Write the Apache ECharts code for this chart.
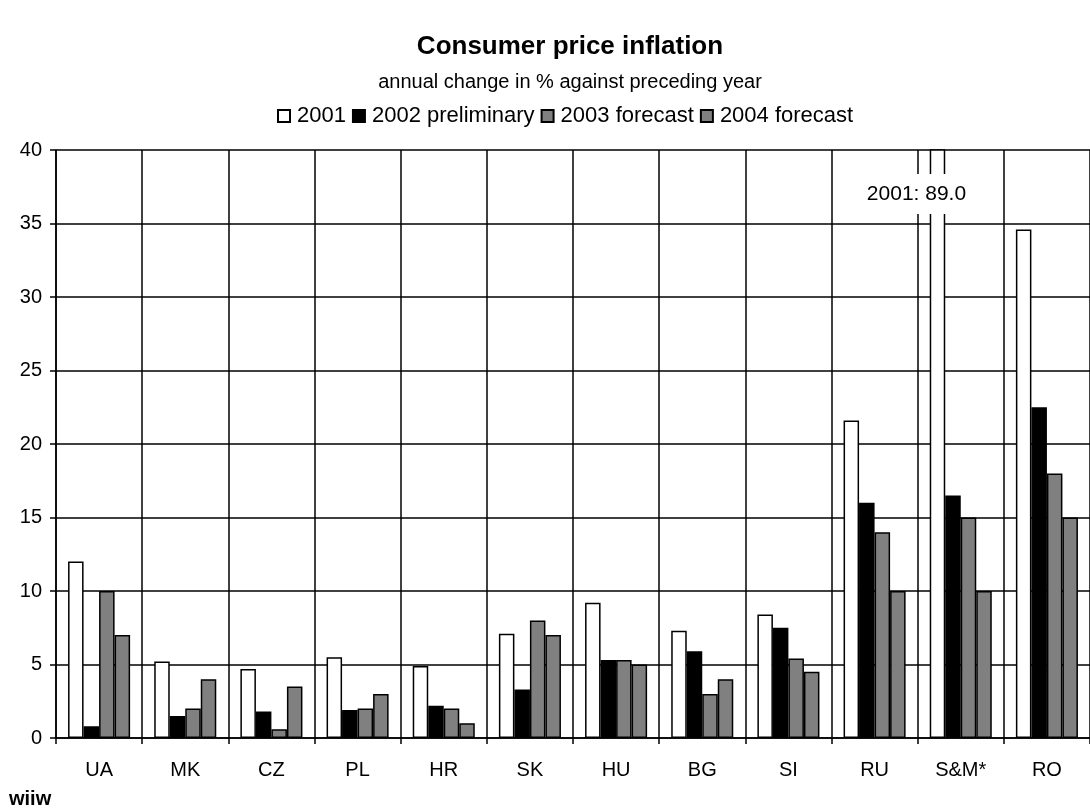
<!DOCTYPE html>
<html>
<head>
<meta charset="utf-8">
<script src="https://cdn.jsdelivr.net/npm/echarts@6/dist/echarts.min.js"></script>
<style>
html,body{margin:0;padding:0;background:#fff;}
#chart{width:1090px;height:808px;}
</style>
</head>
<body>
<div id="chart"></div>
<script>
// countries on the x axis
const countries = ['UA','MK','CZ','PL','HR','SK','HU','BG','SI','RU','S&M*','RO']
// annual change in %
const y2001 = [12.0, 5.2, 4.7, 5.5, 4.9, 7.1, 9.2, 7.3, 8.4, 21.6, 89.0, 34.6]
const y2002 = [0.8, 1.5, 1.8, 1.9, 2.2, 3.3, 5.3, 5.9, 7.5, 16.0, 16.5, 22.5]
const y2003 = [10.0, 2.0, 0.6, 2.0, 2.0, 8.0, 5.3, 3.0, 5.4, 14.0, 15.0, 18.0]
const y2004 = [7.0, 4.0, 3.5, 3.0, 1.0, 7.0, 5.0, 4.0, 4.5, 10.0, 10.0, 15.0]
const seriesNames = ['2001','2002 preliminary','2003 forecast','2004 forecast']
const yTicks = [0, 40, 5] // min, max, step

const font = 'Liberation Sans, Arial, sans-serif'
const border = {borderColor:'#000', borderWidth:1.5}

function bar(name, data, color){
    return {
        name:name,
        type:'bar',
        data:data,
        barGap:'0%',
        barCategoryGap:'28%',
        itemStyle:Object.assign({color:color}, border)
    }
}

const s2001 = bar(seriesNames[0], y2001, '#ffffff')
// the S&M* 2001 bar is cut at 40, its value is written in a box
s2001.markPoint = {
    silent:true,
    data:[{
        coord:['S&M*', 37],
        symbol:'rect',
        symbolSize:[126, 40],
        symbolOffset:[-21, 0],
        itemStyle:{color:'#fff'},
        label:{show:true, position:'inside', formatter:'2001: 89.0', color:'#000', fontSize:21, fontFamily:font}
    }]
}

const option = {
    animation:false,
    backgroundColor:'#fff',
    textStyle:{fontFamily:font, color:'#000'},
    title:[
        {text:'Consumer price inflation', left:565, textAlign:'center', top:29,
         textStyle:{fontSize:26, fontWeight:'bold', color:'#000', fontFamily:font}},
        {text:'annual change in % against preceding year', left:565, textAlign:'center', top:67,
         textStyle:{fontSize:20, fontWeight:'normal', color:'#000', fontFamily:font}},
        {text:'wiiw', left:4, top:784,
         textStyle:{fontSize:20, fontWeight:'bold', color:'#000', fontFamily:font}}
    ],
    legend:{
        top:100,
        left:272,
        itemWidth:12,
        itemHeight:12,
        itemGap:6,
        icon:'rect',
        textStyle:{fontSize:22, color:'#000', fontFamily:font, padding:[0,0,0,2]},
        data:seriesNames
    },
    grid:{left:56, top:150, width:1039, bottom:70, containLabel:false},
    xAxis:{
        type:'category',
        data:countries,
        axisLine:{lineStyle:{color:'#000', width:1.5}},
        axisTick:{show:true, length:6, lineStyle:{color:'#000', width:1.5}},
        axisLabel:{color:'#000', fontSize:20, margin:22, interval:0, fontFamily:font},
        splitLine:{show:true, interval:0, lineStyle:{color:'#000', width:1.5}}
    },
    yAxis:{
        type:'value',
        min:yTicks[0],
        max:yTicks[1],
        interval:yTicks[2],
        axisLine:{show:true, lineStyle:{color:'#000', width:1.5}},
        axisTick:{show:true, length:6, lineStyle:{color:'#000', width:1.5}},
        axisLabel:{color:'#000', fontSize:20, margin:14, fontFamily:font},
        splitLine:{show:true, lineStyle:{color:'#000', width:1.5}}
    },
    series:[
        s2001,
        bar(seriesNames[1], y2002, '#000000'),
        bar(seriesNames[2], y2003, '#808080'),
        bar(seriesNames[3], y2004, '#808080')
    ]
}

const chart = echarts.init(document.getElementById('chart'))
chart.setOption(option)
</script>
</body>
</html>
